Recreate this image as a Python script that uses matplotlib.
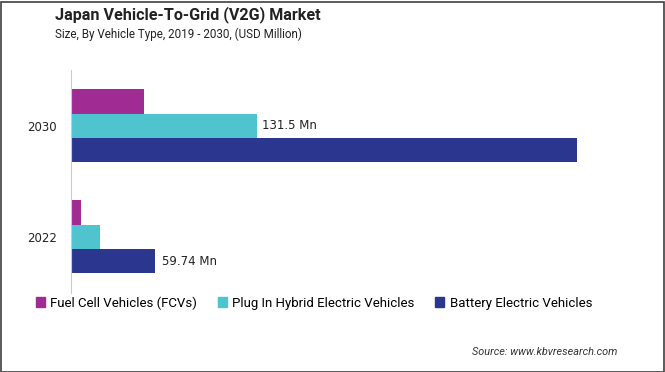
import matplotlib
matplotlib.use('Agg')
import numpy as np
import matplotlib.pyplot as plt
from matplotlib.patches import Patch, Rectangle

years = ['2022', '2030']
series = ['Fuel Cell Vehicles (FCVs)', 'Plug In Hybrid Electric Vehicles', 'Battery Electric Vehicles']
fcv = [7.3, 52.0]
phev = [20.8, 131.5]
bev = [59.74, 358.6]

FCV_COLOR = '#A02C93'
PHEV_COLOR = '#4FC4CF'
BEV_COLOR = '#2B378F'

W, H = 665, 372
fig = plt.figure(figsize=(W / 100, H / 100), dpi=100)

# axes placed in pixel terms
left, right, top, bottom = 71, 640, 70, 293
ax = fig.add_axes([left / W, 1 - bottom / H, (right - left) / W, (bottom - top) / H])

y = np.arange(len(years))
h = 0.219
ax.barh(y + h, fcv, height=h, color=FCV_COLOR, label=series[0])
ax.barh(y, phev, height=h, color=PHEV_COLOR, label=series[1])
ax.barh(y - h, bev, height=h, color=BEV_COLOR, label=series[2])

ax.set_xlim(0, (right - left) * 0.7087)
ax.set_ylim(-0.507, 1.502)

# value labels
ax.text(phev[1] + 4, 1, '131.5 Mn', va='center', ha='left', fontsize=8.5, color='#222222')
ax.text(bev[0] + 5, -h, '59.74 Mn', va='center', ha='left', fontsize=8.5, color='#222222')

ax.set_yticks(y)
ax.set_yticklabels(years, fontsize=8.5, color='#222222')
ax.tick_params(axis='y', length=0, pad=10)
ax.set_xticks([])
for s in ['top', 'right', 'bottom']:
    ax.spines[s].set_visible(False)
ax.spines['left'].set_color('#cccccc')
ax.spines['left'].set_linewidth(0.8)

# titles
fig.text(55 / W, 1 - 15 / H, 'Japan Vehicle-To-Grid (V2G) Market', fontsize=11.6, weight='bold',
         family='Roboto', va='center', ha='left', color='#222222')
fig.text(55 / W, 1 - 34 / H, 'Size, By Vehicle Type, 2019 - 2030, (USD Million)', fontsize=8.4,
         family='Roboto', va='center', ha='left', color='#222222')

# legend
handles = [Patch(color=FCV_COLOR), Patch(color=PHEV_COLOR), Patch(color=BEV_COLOR)]
fig.legend(handles, series, loc='center left', bbox_to_anchor=(24 / W, 1 - 303 / H), ncol=3,
           frameon=False, handlelength=0.7, handleheight=0.7, handletextpad=0.4,
           columnspacing=1.55, prop={'family': 'Roboto', 'size': 9.5})

fig.text(617 / W, 1 - 352 / H, 'Source: www.kbvresearch.com', fontsize=7.8, style='italic',
         family='Roboto', ha='right', va='center', color='#333333')

# border
fig.patches.append(Rectangle((0.5 / W, 0.5 / H), 1 - 2 / W, 1 - 2 / H, transform=fig.transFigure,
                             fill=False, edgecolor='#404040', linewidth=1.2))

fig.savefig('out.png', dpi=100)
